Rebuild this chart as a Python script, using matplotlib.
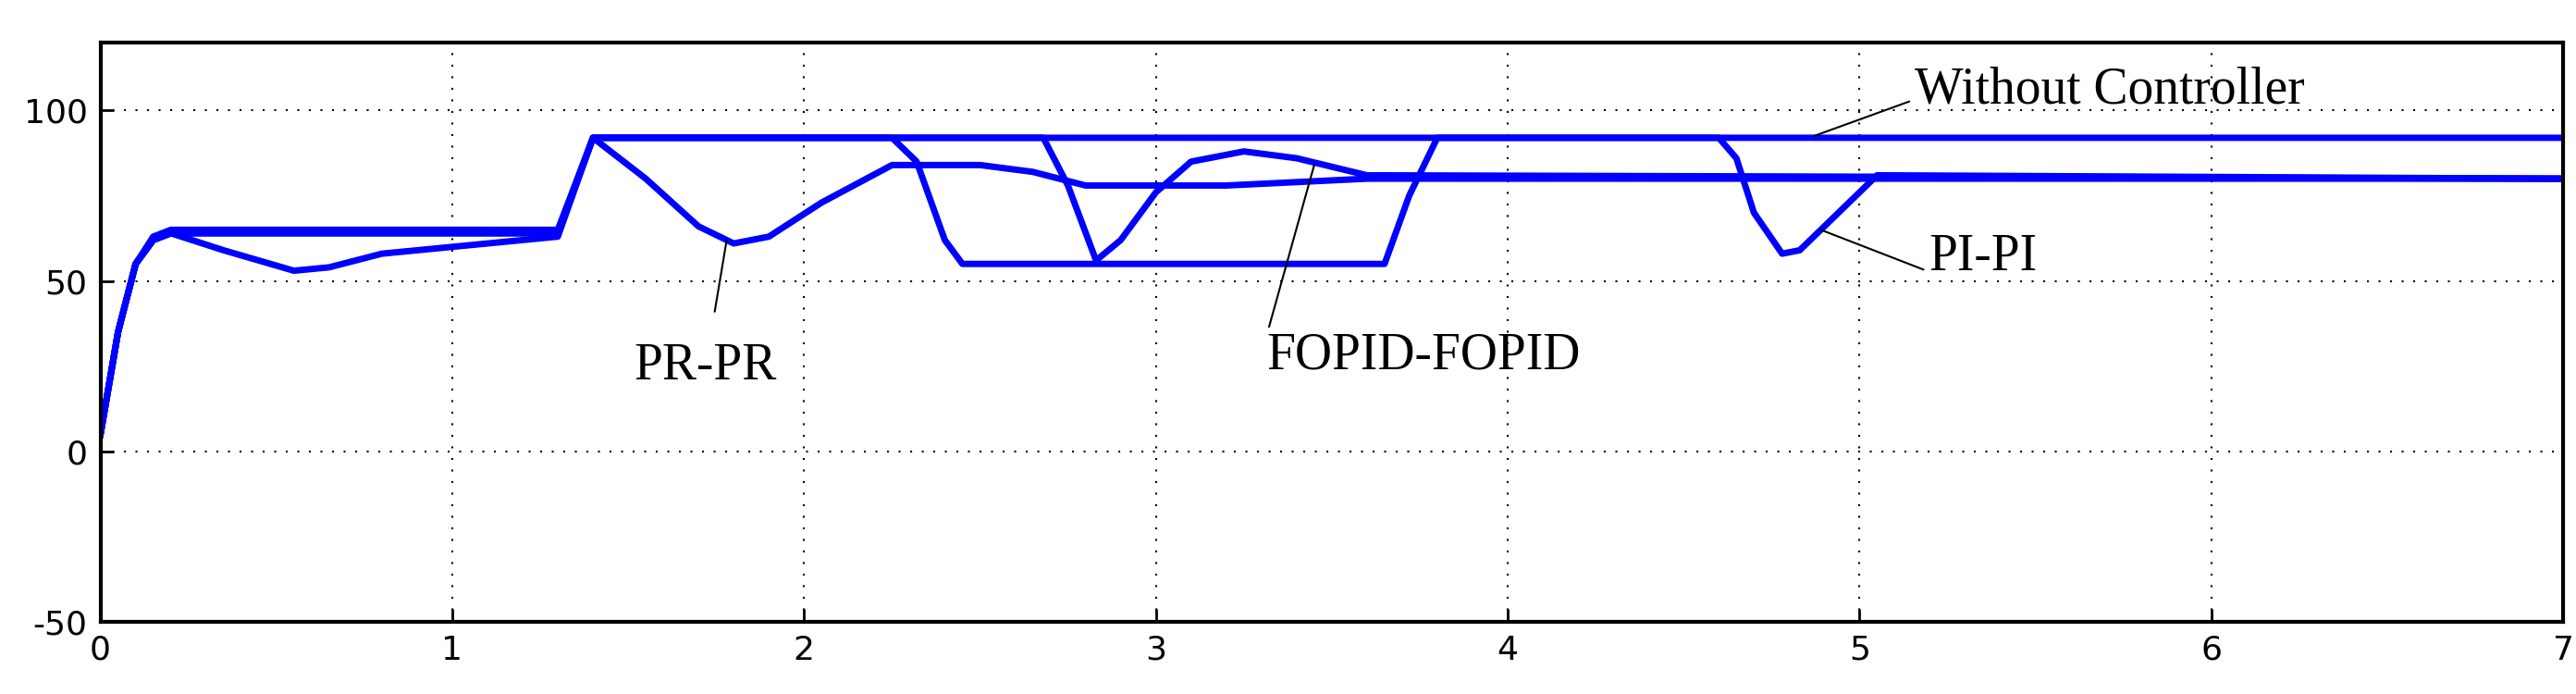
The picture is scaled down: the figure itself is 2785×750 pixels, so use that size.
import numpy as np
import matplotlib.pyplot as plt

plt.rcParams['axes.unicode_minus'] = False

# piecewise points (time s, value)
t_without = [0, 0.05, 0.1, 0.15, 0.2, 1.3, 1.4, 7.0]
y_without = [5, 35, 55, 63, 65, 65, 92, 92]

t_pr = [0, 0.05, 0.1, 0.15, 0.2, 0.35, 0.55, 0.65, 0.8, 1.0, 1.3, 1.4, 1.55, 1.7, 1.8, 1.9, 2.05, 2.25, 2.5, 2.65, 2.8, 3.2, 3.6, 7.0]
y_pr = [5, 35, 55, 62, 64, 59, 53, 54, 58, 60, 63, 92, 80, 66, 61, 63, 73, 84, 84, 82, 78, 78, 80, 80]

t_fopid = [0, 0.05, 0.1, 0.15, 0.2, 1.3, 1.4, 2.68, 2.75, 2.83, 2.9, 3.0, 3.1, 3.25, 3.4, 3.6, 7.0]
y_fopid = [5, 35, 55, 62, 64, 64, 92, 92, 78, 56, 62, 76, 85, 88, 86, 81, 80]

t_pi = [0, 0.05, 0.1, 0.15, 0.2, 1.3, 1.4, 2.25, 2.32, 2.4, 2.45, 3.65, 3.72, 3.8, 4.6, 4.65, 4.7, 4.78, 4.83, 4.92, 5.05, 7.0]
y_pi = [5, 35, 55, 62, 64, 64, 92, 92, 85, 62, 55, 55, 75, 92, 92, 86, 70, 58, 59, 68, 81, 80]

blue = '#0000ff'
fig = plt.figure(figsize=(27.85, 7.5), dpi=100)
ax = fig.add_axes([0.039, 0.104, 0.956, 0.835])

for t, y in [(t_without, y_without), (t_pr, y_pr), (t_fopid, y_fopid), (t_pi, y_pi)]:
    ax.plot(t, y, color=blue, lw=5)

ax.set_xlim(0, 7)
ax.set_ylim(-50, 120)
ax.set_xticks(range(0, 8))
ax.set_yticks([-50, 0, 50, 100])
ax.grid(True, color='black', linestyle=(0, (1, 5)), lw=1.5)
ax.tick_params(direction='in', length=10, width=2, labelsize=26, pad=10)
for s in ax.spines.values():
    s.set_linewidth(3)

font = dict(family='Liberation Serif', fontsize=40)
ax.annotate('PR-PR', xy=(1.78, 62), xytext=(1.72, 25), ha='center', va='center',
            arrowprops=dict(arrowstyle='-', color='black', lw=1.5, shrinkB=0, shrinkA=22), **font)
ax.annotate('FOPID-FOPID', xy=(3.45, 84), xytext=(3.76, 28), ha='center', va='center',
            arrowprops=dict(arrowstyle='-', color='black', lw=1.5, shrinkB=0, relpos=(0, 0.9)), **font)
ax.annotate('Without Controller', xy=(4.87, 92.5), xytext=(5.71, 106), ha='center', va='center',
            arrowprops=dict(arrowstyle='-', color='black', lw=1.5, shrinkB=0, relpos=(0, 0.3)), **font)
ax.annotate('PI-PI', xy=(4.89, 65), xytext=(5.35, 57), ha='center', va='center',
            arrowprops=dict(arrowstyle='-', color='black', lw=1.5, shrinkB=0, relpos=(0, 0.2)), **font)

fig.savefig('out.png')
